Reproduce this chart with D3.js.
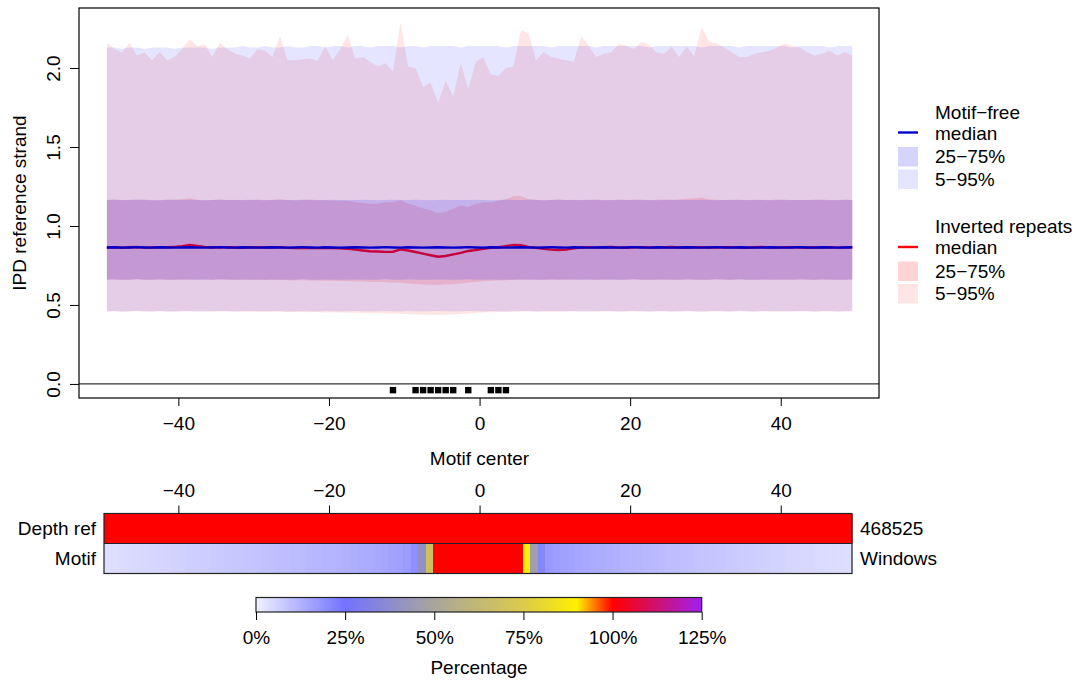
<!DOCTYPE html>
<html>
<head>
<meta charset="utf-8">
<script src="https://cdn.jsdelivr.net/npm/d3@7"></script>
<style>
body { margin: 0; background: #fff; }
text { font-family: "Liberation Sans", Arial, sans-serif; fill: #000; }
</style>
</head>
<body>
<div id="chart"></div>
<script>
// positions around the motif center (one per base)
var positions = d3.range(-49.5, 50, 1);

// motif-free windows (blue)
var blue95 = [2.13,2.13,2.12,2.13,2.13,2.12,2.13,2.13,2.13,2.12,
  2.13,2.13,2.13,2.13,2.12,2.13,2.13,2.13,2.14,2.13,
  2.13,2.14,2.13,2.13,2.14,2.13,2.13,2.14,2.14,2.13,
  2.14,2.14,2.13,2.14,2.14,2.13,2.14,2.14,2.14,2.13,
  2.14,2.14,2.13,2.14,2.14,2.14,2.14,2.13,2.14,2.14,
  2.14,2.14,2.14,2.13,2.14,2.14,2.14,2.14,2.14,2.13,
  2.14,2.14,2.14,2.14,2.14,2.13,2.14,2.14,2.14,2.14,
  2.14,2.14,2.13,2.14,2.14,2.14,2.14,2.14,2.14,2.13,
  2.14,2.14,2.14,2.14,2.13,2.14,2.14,2.14,2.14,2.14,
  2.14,2.13,2.14,2.14,2.14,2.14,2.13,2.14,2.14,2.14];
var blue75 = [1.165,1.166,1.164,1.165,1.167,1.165,1.163,1.165,1.166,1.165,
  1.164,1.166,1.165,1.163,1.165,1.166,1.165,1.164,1.165,1.166,
  1.165,1.163,1.165,1.166,1.165,1.164,1.166,1.165,1.163,1.165,
  1.166,1.165,1.164,1.165,1.166,1.165,1.163,1.165,1.166,1.165,
  1.164,1.166,1.165,1.163,1.165,1.166,1.165,1.164,1.165,1.166,
  1.165,1.163,1.165,1.166,1.165,1.164,1.166,1.165,1.163,1.165,
  1.166,1.165,1.164,1.165,1.166,1.165,1.163,1.165,1.166,1.165,
  1.164,1.166,1.165,1.163,1.165,1.166,1.165,1.164,1.165,1.166,
  1.165,1.163,1.165,1.166,1.165,1.164,1.166,1.165,1.163,1.165,
  1.166,1.165,1.164,1.165,1.166,1.165,1.163,1.165,1.166,1.165];
var blueMed = [0.864,0.865,0.863,0.864,0.866,0.864,0.863,0.865,0.864,0.863,
  0.864,0.865,0.864,0.863,0.864,0.866,0.864,0.863,0.865,0.864,
  0.863,0.864,0.865,0.864,0.863,0.864,0.866,0.864,0.863,0.865,
  0.864,0.863,0.864,0.865,0.864,0.863,0.864,0.866,0.864,0.863,
  0.865,0.864,0.863,0.864,0.865,0.864,0.863,0.864,0.866,0.864,
  0.863,0.865,0.864,0.863,0.864,0.865,0.864,0.863,0.864,0.866,
  0.864,0.863,0.865,0.864,0.863,0.864,0.865,0.864,0.863,0.864,
  0.866,0.864,0.863,0.865,0.864,0.863,0.864,0.865,0.864,0.863,
  0.864,0.866,0.864,0.863,0.865,0.864,0.863,0.864,0.865,0.864,
  0.863,0.864,0.866,0.864,0.863,0.865,0.864,0.863,0.864,0.865];
var blue25 = [0.660,0.661,0.659,0.660,0.662,0.660,0.659,0.661,0.660,0.659,
  0.660,0.661,0.660,0.659,0.660,0.662,0.660,0.659,0.661,0.660,
  0.659,0.660,0.661,0.660,0.659,0.660,0.662,0.660,0.659,0.661,
  0.660,0.659,0.660,0.661,0.660,0.659,0.660,0.662,0.660,0.659,
  0.661,0.660,0.659,0.660,0.661,0.660,0.659,0.660,0.662,0.660,
  0.659,0.661,0.660,0.659,0.660,0.661,0.660,0.659,0.660,0.662,
  0.660,0.659,0.661,0.660,0.659,0.660,0.661,0.660,0.659,0.660,
  0.662,0.660,0.659,0.661,0.660,0.659,0.660,0.661,0.660,0.659,
  0.660,0.662,0.660,0.659,0.661,0.660,0.659,0.660,0.661,0.660,
  0.659,0.660,0.662,0.660,0.659,0.661,0.660,0.659,0.660,0.661];
var blue5 = [0.460,0.461,0.459,0.460,0.462,0.460,0.459,0.461,0.460,0.459,
  0.460,0.461,0.460,0.459,0.460,0.462,0.460,0.459,0.461,0.460,
  0.459,0.460,0.461,0.460,0.459,0.460,0.462,0.460,0.459,0.461,
  0.460,0.459,0.460,0.461,0.460,0.459,0.460,0.462,0.460,0.459,
  0.461,0.460,0.459,0.460,0.461,0.460,0.459,0.460,0.462,0.460,
  0.459,0.461,0.460,0.459,0.460,0.461,0.460,0.459,0.460,0.462,
  0.460,0.459,0.461,0.460,0.459,0.460,0.461,0.460,0.459,0.460,
  0.462,0.460,0.459,0.461,0.460,0.459,0.460,0.461,0.460,0.459,
  0.460,0.462,0.460,0.459,0.461,0.460,0.459,0.460,0.461,0.460,
  0.459,0.460,0.462,0.460,0.459,0.461,0.460,0.459,0.460,0.461];

// inverted repeat windows (red)
var red95 = [2.16,2.12,2.10,2.16,2.08,2.10,2.05,2.10,2.05,2.07,
  2.12,2.18,2.14,2.15,2.07,2.16,2.12,2.09,2.08,2.06,
  2.12,2.11,2.07,2.20,2.05,2.05,2.055,2.06,2.046,2.14,
  2.05,2.12,2.21,2.06,2.07,2.04,2.01,2.03,1.98,2.29,
  2.01,2.00,1.88,1.91,1.78,1.92,1.82,2.03,1.87,2.04,
  2.07,1.96,1.95,2.00,2.01,2.24,2.22,2.05,2.10,2.07,
  2.06,2.05,2.04,2.20,2.14,2.07,2.09,2.10,2.155,2.14,
  2.12,2.167,2.146,2.10,2.09,2.135,2.07,2.135,2.076,2.26,
  2.167,2.155,2.13,2.10,2.07,2.07,2.09,2.10,2.11,2.13,
  2.155,2.14,2.13,2.10,2.08,2.09,2.11,2.08,2.10,2.08];
var red75 = [1.165,1.168,1.163,1.166,1.164,1.167,1.165,1.162,1.166,1.168,
  1.170,1.175,1.166,1.163,1.165,1.167,1.164,1.166,1.163,1.165,
  1.167,1.164,1.166,1.168,1.165,1.162,1.165,1.167,1.164,1.163,
  1.162,1.160,1.160,1.150,1.145,1.140,1.140,1.150,1.150,1.165,
  1.140,1.130,1.110,1.100,1.080,1.090,1.110,1.130,1.120,1.140,
  1.150,1.150,1.160,1.170,1.190,1.190,1.170,1.166,1.163,1.165,
  1.167,1.164,1.166,1.163,1.165,1.168,1.165,1.163,1.166,1.164,
  1.167,1.165,1.163,1.166,1.168,1.165,1.170,1.172,1.175,1.180,
  1.170,1.166,1.164,1.165,1.167,1.163,1.165,1.166,1.164,1.167,
  1.165,1.163,1.166,1.165,1.164,1.167,1.165,1.163,1.166,1.165];
var redMed = [0.864,0.866,0.862,0.865,0.867,0.863,0.864,0.866,0.865,0.868,
  0.872,0.880,0.874,0.868,0.865,0.863,0.866,0.864,0.862,0.865,
  0.866,0.863,0.864,0.866,0.862,0.860,0.862,0.861,0.860,0.862,
  0.860,0.858,0.855,0.850,0.845,0.840,0.838,0.836,0.837,0.852,
  0.845,0.835,0.825,0.815,0.805,0.810,0.820,0.830,0.842,0.848,
  0.855,0.862,0.865,0.872,0.880,0.878,0.868,0.862,0.855,0.850,
  0.848,0.850,0.858,0.864,0.866,0.863,0.865,0.867,0.864,0.862,
  0.865,0.866,0.864,0.863,0.865,0.867,0.864,0.862,0.865,0.866,
  0.864,0.863,0.865,0.866,0.864,0.862,0.865,0.867,0.864,0.863,
  0.865,0.866,0.864,0.862,0.865,0.864,0.866,0.863,0.864,0.865];
var red25 = [0.659,0.661,0.658,0.660,0.662,0.659,0.660,0.661,0.658,0.660,
  0.661,0.659,0.660,0.662,0.658,0.659,0.661,0.660,0.658,0.659,
  0.660,0.658,0.657,0.659,0.656,0.655,0.657,0.654,0.655,0.653,
  0.654,0.652,0.650,0.649,0.648,0.646,0.645,0.643,0.641,0.640,
  0.636,0.633,0.630,0.628,0.627,0.629,0.631,0.636,0.640,0.645,
  0.650,0.653,0.655,0.657,0.659,0.660,0.661,0.659,0.660,0.658,
  0.660,0.661,0.659,0.660,0.662,0.658,0.660,0.661,0.659,0.660,
  0.661,0.659,0.660,0.658,0.661,0.660,0.659,0.661,0.660,0.658,
  0.660,0.661,0.659,0.660,0.662,0.659,0.660,0.661,0.658,0.660,
  0.661,0.659,0.660,0.661,0.658,0.660,0.661,0.659,0.660,0.661];
var red5 = [0.458,0.460,0.457,0.459,0.461,0.458,0.459,0.460,0.457,0.459,
  0.460,0.458,0.459,0.461,0.457,0.458,0.460,0.459,0.457,0.458,
  0.459,0.457,0.456,0.458,0.455,0.455,0.456,0.454,0.455,0.453,
  0.454,0.452,0.451,0.450,0.449,0.448,0.447,0.446,0.445,0.444,
  0.442,0.440,0.438,0.437,0.437,0.438,0.440,0.443,0.446,0.449,
  0.452,0.454,0.456,0.457,0.458,0.459,0.460,0.458,0.459,0.457,
  0.459,0.460,0.458,0.459,0.461,0.457,0.459,0.460,0.458,0.459,
  0.460,0.458,0.459,0.457,0.460,0.459,0.458,0.460,0.459,0.457,
  0.459,0.460,0.458,0.459,0.461,0.458,0.459,0.460,0.457,0.459,
  0.460,0.458,0.459,0.460,0.457,0.459,0.460,0.458,0.459,0.460];

// motif bases marked under the zero line
var motifSites = [-11.5, -8.5, -7.5, -6.5, -5.5, -4.5, -3.5, -1.5, 1.5, 2.5, 3.5];

// heatmap rows (percentage per base)
var depthRef = [100,100,100,100,100,100,100,100,100,100,100,100,100,100,100,100,100,100,100,100,
  100,100,100,100,100,100,100,100,100,100,100,100,100,100,100,100,100,100,100,100,
  100,100,100,100,100,100,100,100,100,100,100,100,100,100,100,100,100,100,100,100,
  100,100,100,100,100,100,100,100,100,100,100,100,100,100,100,100,100,100,100,100,
  100,100,100,100,100,100,100,100,100,100,100,100,100,100,100,100,100,100,100,100];
var motifPct = [3.6,3.8,4.1,4.3,4.6,4.8,5.1,5.4,5.6,5.9, 6.2,6.5,6.7,7.0,7.3,7.6,7.9,8.1,8.4,8.7,
  9.0,9.3,9.6,9.9,10.2,10.5,10.8,11.1,11.4,11.7, 12.0,12.3,12.7,13.0,13.4,13.8,14.2,14.7,15.2,15.8,
  16.8,19.5,40,68,100,100,100,100,100,100, 100,100,100,100,100,100,88,46,21,17.5,
  16.4,15.8,15.2,14.7,14.2,13.8,13.4,13.0,12.6,12.2, 11.9,11.5,11.2,10.9,10.5,10.2,9.9,9.6,9.3,9.0,
  8.7,8.4,8.1,7.8,7.5,7.2,6.9,6.6,6.3,6.0, 5.7,5.4,5.2,4.9,4.7,4.4,4.2,4.0,3.8,3.6];
var rowLabels = ["Depth ref", "Motif"];
var rowNotes = ["468525", "Windows"];

// tick labels
var xTicks = [-40, -20, 0, 20, 40];
var yTicks = [0, 0.5, 1, 1.5, 2];
var pctTicks = [0, 25, 50, 75, 100, 125];

// colour ramp used by heatmap and colour bar
var rampStops = [0, 25, 50, 75, 90, 100, 112, 125];
var rampColors = ["#f0f0ff", "#7272ff", "#a9a59c", "#dccb4a", "#fff000", "#ff0000", "#d0106e", "#a020f0"];

var FONT = 19;
var FAMILY = "Liberation Sans, Arial, sans-serif";

var svg = d3.select("#chart").append("svg")
  .attr("width", 1079)
  .attr("height", 686);

var x = d3.scaleLinear().domain([-53.2, 53.05]).range([79, 879]);
var y = d3.scaleLinear().domain([-0.089, 2.38]).range([398, 8]);
// heatmap cells sit a little narrower than the plot above
var hx = d3.scaleLinear().domain([-50, 50]).range([104, 852]);
var color = d3.scaleLinear().domain(rampStops).range(rampColors);

function band(lo, hi) {
  return d3.area()
    .x((d, i) => x(positions[i]))
    .y0((d, i) => y(lo[i]))
    .y1((d, i) => y(hi[i]))(positions);
}
function medLine(vals) {
  return d3.line()
    .x((d, i) => x(positions[i]))
    .y((d, i) => y(vals[i]))(positions);
}

var plot = svg.append("g");

// red first, blue drawn over it
plot.append("path").attr("d", band(red5, red95)).attr("fill", "rgba(255,0,0,0.1)");
plot.append("path").attr("d", band(red25, red75)).attr("fill", "rgba(255,0,0,0.13)");
plot.append("path").attr("d", medLine(redMed)).attr("fill", "none")
  .attr("stroke", "#ff0000").attr("stroke-width", 2.4);
plot.append("path").attr("d", band(blue5, blue95)).attr("fill", "rgba(0,0,255,0.1)");
plot.append("path").attr("d", band(blue25, blue75)).attr("fill", "rgba(0,0,255,0.14)");
plot.append("path").attr("d", medLine(blueMed)).attr("fill", "none")
  .attr("stroke", "#0000c8").attr("stroke-width", 2.4);

// zero line and motif sites
plot.append("line")
  .attr("x1", 79).attr("x2", 879)
  .attr("y1", y(0)).attr("y2", y(0))
  .attr("stroke", "#333").attr("stroke-width", 1.3);
plot.selectAll("rect.site")
  .data(motifSites)
  .enter().append("rect")
  .attr("class", "site")
  .attr("x", d => x(d) - 3.2)
  .attr("y", y(0) + 3)
  .attr("width", 6.4)
  .attr("height", 6.4)
  .attr("fill", "#000");

// box
svg.append("rect")
  .attr("x", 79).attr("y", 8)
  .attr("width", 800).attr("height", 390)
  .attr("fill", "none").attr("stroke", "#000").attr("stroke-width", 1.2);

// x axis (bottom of top plot)
svg.append("g")
  .attr("transform", "translate(0,398)")
  .call(d3.axisBottom(x).tickValues(xTicks).tickSize(8).tickPadding(11))
  .call(g => g.select(".domain").remove())
  .attr("font-size", FONT).attr("font-family", FAMILY);

// y axis with rotated labels
svg.append("g")
  .attr("transform", "translate(79,0)")
  .call(d3.axisLeft(y).tickValues(yTicks).tickSize(9).tickFormat(d3.format(".1f")))
  .call(g => g.select(".domain").remove())
  .attr("font-size", FONT).attr("font-family", FAMILY)
  .call(g => g.selectAll(".tick text")
    .attr("x", 0).attr("dy", 0)
    .attr("text-anchor", "middle")
    .attr("transform", "translate(-19.5,0) rotate(-90)"));

svg.append("text")
  .attr("transform", "translate(26,203) rotate(-90)")
  .attr("text-anchor", "middle")
  .attr("font-size", FONT)
  .text("IPD reference strand");

svg.append("text")
  .attr("x", 479.5).attr("y", 464.5)
  .attr("text-anchor", "middle")
  .attr("font-size", FONT)
  .text("Motif center");

// legend
var legend = svg.append("g").attr("font-size", FONT);
var legendGroups = [
  {title: "Motif\u2212free", line: "#0000c8", mid: "rgba(0,0,255,0.17)", wide: "rgba(0,0,255,0.1)", top: 118.5},
  {title: "Inverted repeats", line: "#ff0000", mid: "rgba(255,0,0,0.17)", wide: "rgba(255,0,0,0.1)", top: 233}
];
legendGroups.forEach(function(g) {
  legend.append("text").attr("x", 935).attr("y", g.top).text(g.title);
  legend.append("line")
    .attr("x1", 898).attr("x2", 918)
    .attr("y1", g.top + 14).attr("y2", g.top + 14)
    .attr("stroke", g.line).attr("stroke-width", 2.4);
  legend.append("text").attr("x", 935).attr("y", g.top + 21).text("median");
  legend.append("rect").attr("x", 898).attr("y", g.top + 28.5)
    .attr("width", 20).attr("height", 19.5).attr("fill", g.mid);
  legend.append("text").attr("x", 935).attr("y", g.top + 44.5).text("25\u221275%");
  legend.append("rect").attr("x", 898).attr("y", g.top + 51)
    .attr("width", 20).attr("height", 19.5).attr("fill", g.wide);
  legend.append("text").attr("x", 935).attr("y", g.top + 67).text("5\u221295%");
});

// heatmap
var heatTop = 513.5, rowH = 30;
var rows = [depthRef, motifPct];
var heat = svg.append("g");
rows.forEach(function(vals, r) {
  heat.selectAll("rect.r" + r)
    .data(vals)
    .enter().append("rect")
    .attr("class", "r" + r)
    .attr("x", (d, i) => hx(positions[i] - 0.5))
    .attr("y", heatTop + r * rowH)
    .attr("width", (d, i) => hx(positions[i] + 0.5) - hx(positions[i] - 0.5) + 1)
    .attr("height", rowH)
    .attr("shape-rendering", "crispEdges")
    .attr("fill", d => color(d));
  heat.append("text")
    .attr("x", 96).attr("y", heatTop + r * rowH + rowH / 2 + 6.7)
    .attr("text-anchor", "end").attr("font-size", FONT)
    .text(rowLabels[r]);
  heat.append("text")
    .attr("x", 860).attr("y", heatTop + r * rowH + rowH / 2 + 6.7)
    .attr("font-size", FONT)
    .text(rowNotes[r]);
});
var hx0 = hx(-50), hx1 = hx(50);
// white strip hides the overdraw of the last cell
heat.append("rect").attr("x", hx1 + 0.6).attr("y", heatTop - 1)
  .attr("width", 3).attr("height", rowH * 2 + 2).attr("fill", "#fff");
heat.append("rect")
  .attr("x", hx0).attr("y", heatTop)
  .attr("width", hx1 - hx0).attr("height", rowH * 2)
  .attr("fill", "none").attr("stroke", "#222").attr("stroke-width", 1.2);
heat.append("line")
  .attr("x1", hx0).attr("x2", hx1)
  .attr("y1", heatTop + rowH).attr("y2", heatTop + rowH)
  .attr("stroke", "#222").attr("stroke-width", 1.2);

svg.append("g")
  .attr("transform", "translate(0," + heatTop + ")")
  .call(d3.axisTop(x).tickValues(xTicks).tickSize(8).tickPadding(8.5))
  .call(g => g.select(".domain").remove())
  .attr("font-size", FONT).attr("font-family", FAMILY);

// colour bar
var pct = d3.scaleLinear().domain([0, 125]).range([256, 701.7]);
var grad = svg.append("defs").append("linearGradient")
  .attr("id", "ramp").attr("x1", "0%").attr("x2", "100%");
rampStops.forEach(function(s, i) {
  grad.append("stop").attr("offset", (s / 125 * 100) + "%").attr("stop-color", rampColors[i]);
});
svg.append("rect")
  .attr("x", pct(0)).attr("y", 597.5)
  .attr("width", pct(125) - pct(0)).attr("height", 14.5)
  .attr("fill", "url(#ramp)").attr("stroke", "#222").attr("stroke-width", 1.2);
svg.append("g")
  .attr("transform", "translate(0,612)")
  .call(d3.axisBottom(pct).tickValues(pctTicks).tickSize(8).tickPadding(10.5).tickFormat(d => d + "%"))
  .call(g => g.select(".domain").remove())
  .attr("font-size", FONT).attr("font-family", FAMILY);
svg.append("text")
  .attr("x", 479).attr("y", 674)
  .attr("text-anchor", "middle").attr("font-size", FONT)
  .text("Percentage");
</script>
</body>
</html>
